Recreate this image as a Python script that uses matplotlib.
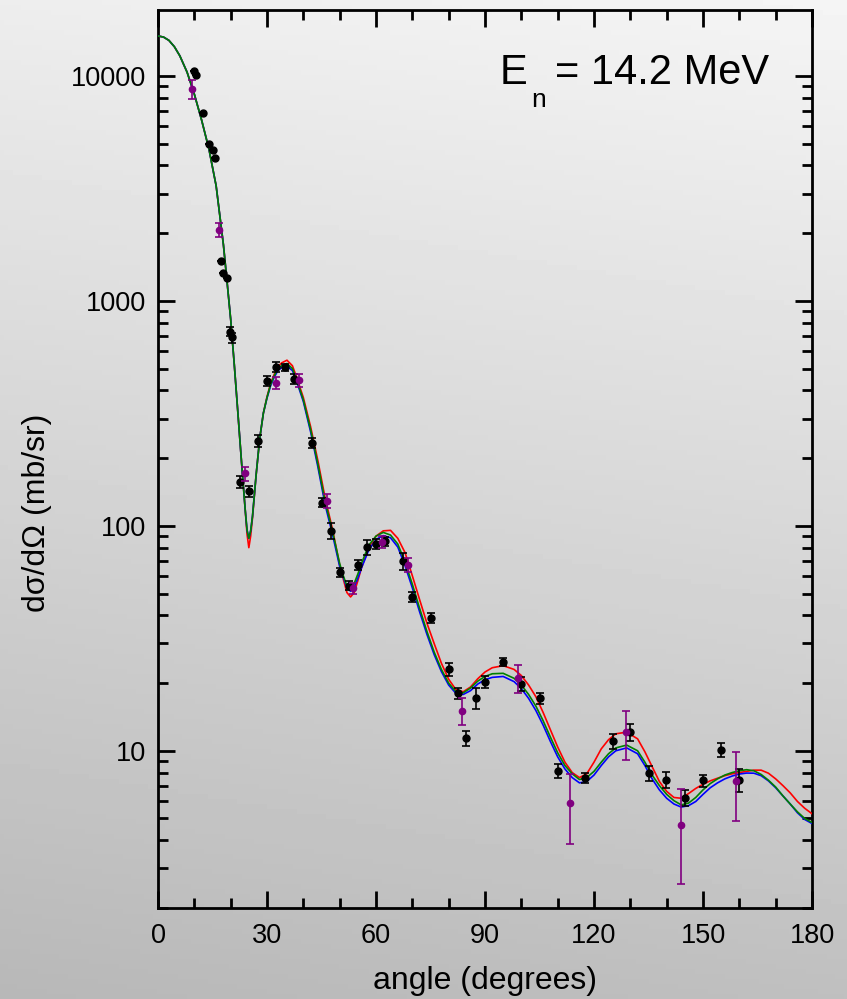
import numpy as np
import matplotlib
matplotlib.use("Agg")
import matplotlib.pyplot as plt
from matplotlib.ticker import FixedLocator, LogLocator, NullFormatter

plt.rcParams["font.family"] = ["Liberation Sans", "DejaVu Sans"]

# theory curves (angle in degrees, dsigma/dOmega in mb/sr)
theta = [0, 1.5, 3, 4.5, 6, 8, 10, 12, 14, 16, 18, 19, 20, 21, 22, 23, 24, 24.5,
         25, 25.5, 26, 27, 28, 29, 30, 31, 32, 33, 34, 35.5, 37, 38, 40, 42, 44,
         46, 48, 50, 51, 52, 53, 54, 55, 56, 58, 60, 62, 64, 66, 68, 70, 72, 74,
         76, 78, 80, 82, 84, 86, 88, 90, 92, 95, 98, 100, 102, 104, 106, 108,
         110, 112, 114, 116, 118, 120, 122, 124, 126, 129, 132, 134, 136, 138,
         140, 142, 144, 146, 148, 150, 152, 154, 156, 158, 160, 162, 164, 166,
         168, 170, 172, 174, 176, 178, 180]

green = [15060, 14900, 14400, 13500, 12300, 10400, 8300, 6370, 4750, 3250, 1780,
         1220, 830, 520, 316, 191, 118, 96, 88, 95, 110, 168, 245, 317, 372, 425,
         465, 500, 515, 527, 500, 455, 363, 268, 188, 128, 95, 68, 60, 54, 52.8,
         55.5, 61, 68, 82, 90, 93.5, 91, 83, 69, 55, 43, 34, 27.5, 23, 20, 18.3,
         18.1, 19, 20.4, 21.4, 22, 22.1, 21, 19.6, 17.8, 15.8, 13.6, 11.5, 9.8,
         8.6, 7.9, 7.45, 7.6, 8.1, 8.9, 9.7, 10.3, 10.6, 10.0, 8.9, 7.8, 7.0, 6.4,
         6.0, 5.75, 5.85, 6.2, 6.7, 7.15, 7.5, 7.8, 8.0, 8.15, 8.24, 8.15, 7.85,
         7.4, 6.9, 6.3, 5.8, 5.35, 5.0, 4.8]

red = [15060, 14900, 14400, 13500, 12300, 10400, 8300, 6370, 4750, 3250, 1780,
       1220, 830, 520, 316, 191, 118, 92, 80, 90, 108, 168, 245, 317, 375, 430,
       472, 510, 530, 545, 515, 465, 372, 276, 195, 133, 97, 67, 58, 50.5, 48.3,
       50.5, 57, 65, 80, 90, 95, 95.5, 88, 76, 60, 47, 37, 30, 24.5, 20.8, 18.7,
       18.3, 19.2, 20.9, 22.4, 23.4, 23.9, 23, 21.6, 19.6, 17.4, 14.8, 12.4,
       10.4, 8.9, 8.0, 7.6, 7.9, 8.9, 10.2, 11.2, 11.9, 12.1, 11.3, 9.9, 8.5,
       7.3, 6.6, 6.2, 6.15, 6.45, 6.8, 7.1, 7.35, 7.55, 7.75, 7.9, 8.0, 8.1, 8.2,
       8.2, 7.95, 7.5, 7.0, 6.5, 5.95, 5.55, 5.25]

blue = [15060, 14900, 14400, 13500, 12300, 10400, 8300, 6370, 4750, 3250, 1780,
        1220, 830, 520, 316, 191, 118, 96, 88, 95, 110, 168, 245, 317, 370, 420,
        458, 490, 505, 513, 490, 447, 357, 262, 183, 124, 92, 66, 59, 53, 51.2,
        53.5, 58.5, 65, 78, 87, 90.5, 88.5, 80.5, 66.5, 53, 41.5, 33, 26.8, 22.5,
        19.6, 18, 17.8, 18.5, 19.8, 20.7, 21.2, 21.4, 20.3, 18.9, 17.1, 15.1, 13,
        11, 9.4, 8.3, 7.6, 7.2, 7.3, 7.8, 8.6, 9.4, 10.0, 10.3, 9.7, 8.6, 7.5,
        6.7, 6.15, 5.8, 5.62, 5.7, 5.95, 6.4, 6.85, 7.2, 7.5, 7.72, 7.88, 7.96,
        7.95, 7.75, 7.35, 6.85, 6.3, 5.8, 5.3, 4.95, 4.75]

# measured points, set 1 (black)
exp1_angle = [9.9, 10.5, 12.5, 14.0, 15.05, 15.7, 17.4, 18.0, 19.0, 19.9, 20.5,
              22.6, 25.0, 27.5, 30.0, 32.6, 35.0, 37.5, 42.5, 45.0, 47.5, 50.1,
              52.6, 55.0, 57.5, 60.0, 62.6, 67.5, 70.0, 75.0, 80.1, 82.6, 84.8,
              87.4, 90.0, 95.0, 99.9, 105.0, 110.0, 117.5, 125.1, 129.9, 135.0,
              139.9, 145.0, 149.9, 155.0, 160.0]
exp1_value = [10500, 10100, 6850, 4990, 4700, 4310, 1510, 1330, 1260, 731, 688,
              157, 143, 239, 440, 509, 506, 450, 234, 127, 95, 62.2, 54.1, 67.1,
              80.2, 83.2, 85.6, 69.9, 48.3, 39.1, 23.1, 18.0, 11.4, 17.2, 20.3,
              24.8, 19.8, 17.1, 8.15, 7.57, 11.0, 12.1, 7.96, 7.43, 6.18, 7.38,
              10.1, 7.43]
exp1_error = [0, 0, 0, 0, 0, 0, 0, 0, 0, 35, 35, 10, 8, 14, 22, 25, 20, 22, 12,
              6, 8, 3, 2.5, 3.5, 6, 4, 4, 6, 2.5, 2, 1.5, 1, 0.9, 1.8, 1.2, 1,
              1.4, 1.0, 0.6, 0.4, 0.85, 1.0, 0.6, 0.6, 0.5, 0.45, 0.75, 0.9]

# measured points, set 2 (purple)
exp2_angle = [9.36, 16.8, 23.9, 32.5, 38.8, 46.4, 53.6, 61.7, 68.8, 83.6, 99.0,
              113.4, 128.8, 144.0, 159.0]
exp2_value = [8750, 2070, 171, 432, 444, 129, 52.8, 84.7, 67.1, 15.1, 21.0, 5.86,
              12.1, 4.66, 7.35]
exp2_error = [850, 155, 12, 26, 31, 9, 3, 5, 5, 2.1, 3, 2.0, 3.0, 2.1, 2.5]

W, H = 847, 999
fig = plt.figure(figsize=(W / 100, H / 100), dpi=100)

# grey gradient background
bg = fig.add_axes([0, 0, 1, 1], zorder=-10)
yy, xx = np.mgrid[0:1:200j, 0:1:200j]
shade = 0.72 + 0.21 * yy + 0.03 * xx
bg.imshow(shade, cmap="gray", vmin=0, vmax=1, origin="lower", aspect="auto",
          extent=[0, 1, 0, 1])
bg.axis("off")

ax = fig.add_axes([158 / W, 91 / H, 654 / W, 898 / H])
ax.patch.set_alpha(0)

ax.plot(theta, red, color="#ff0000", lw=1.2, zorder=3)
ax.plot(theta, blue, color="#0000ff", lw=1.2, zorder=4)
ax.plot(theta, green, color="#008000", lw=1.2, zorder=5)

ax.errorbar(exp1_angle, exp1_value, yerr=exp1_error, fmt="o", color="black",
            ms=5, capsize=3, elinewidth=1.2, capthick=1.2, zorder=6)
ax.errorbar(exp2_angle, exp2_value, yerr=exp2_error, fmt="o", color="#800080",
            ms=4.5, capsize=3, elinewidth=1.2, capthick=1.2, zorder=7)

ax.set_yscale("log")
ax.set_xlim(0, 180)
ax.set_ylim(2.0, 19650)
ax.xaxis.set_major_locator(FixedLocator(range(0, 181, 30)))
ax.xaxis.set_minor_locator(FixedLocator(range(0, 181, 10)))
ax.yaxis.set_major_locator(FixedLocator([10, 100, 1000, 10000]))
ax.yaxis.set_minor_locator(LogLocator(base=10, subs=np.arange(2, 10)))
ax.yaxis.set_minor_formatter(NullFormatter())
ax.set_yticklabels(["10", "100", "1000", "10000"])

ax.tick_params(which="both", direction="in", top=True, right=True, width=2,
               labelsize=19.5, colors="black")
ax.tick_params(which="major", length=12)
ax.tick_params(axis="x", which="major", pad=11)
ax.tick_params(axis="y", which="major", pad=8.5)
ax.tick_params(which="minor", length=7)
for sp in ax.spines.values():
    sp.set_linewidth(2)

ax.set_xlabel("angle (degrees)", fontsize=23, labelpad=12)
ax.set_ylabel("d\u03c3/d\u03a9 (mb/sr)", fontsize=23)
ax.yaxis.set_label_coords(-0.162, 0.44)

ax.text(0.523, 0.9176, "E", transform=ax.transAxes, fontsize=30, va="baseline")
ax.text(0.571, 0.892, "n", transform=ax.transAxes, fontsize=19, va="baseline")
ax.text(0.607, 0.9176, "= 14.2 MeV", transform=ax.transAxes, fontsize=30,
        va="baseline")

fig.savefig("out.png", dpi=100)
plt.close(fig)
